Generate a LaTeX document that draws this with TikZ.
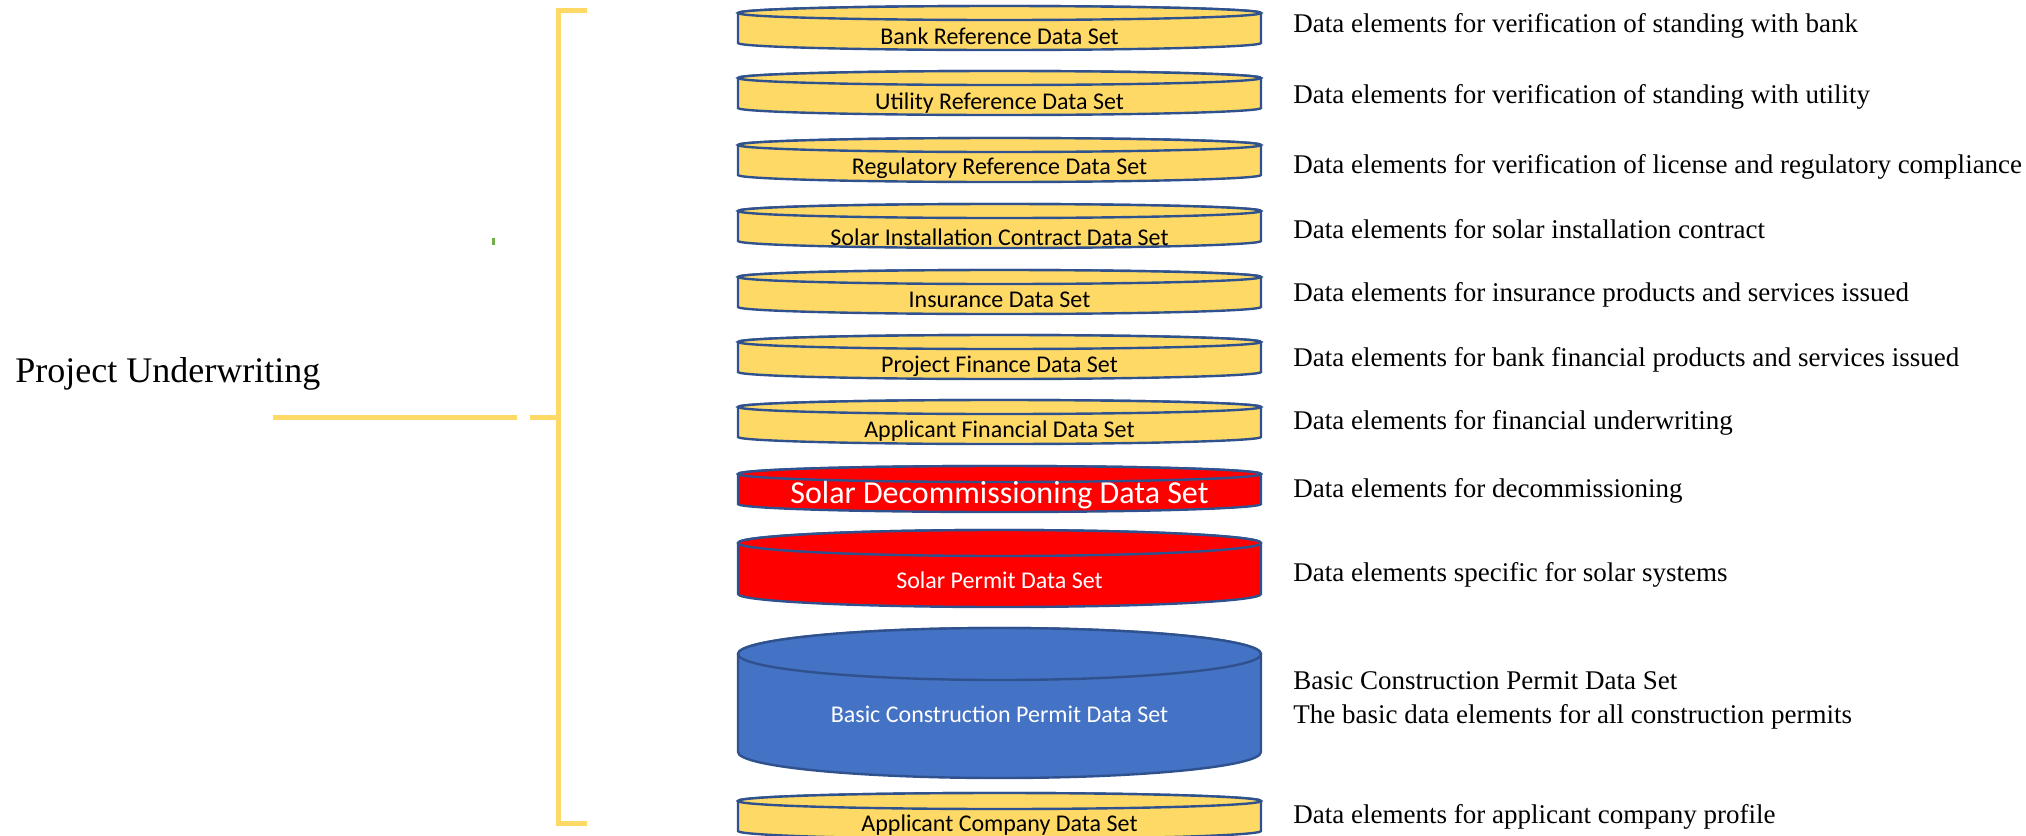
\documentclass[tikz,border=0pt]{standalone}
\usepackage{fontspec}
\setmainfont{Liberation Serif}
\newfontfamily\calibri{Carlito}
\definecolor{setedge}{HTML}{2F528F}
\definecolor{setyellow}{HTML}{FFD966}
\definecolor{setred}{HTML}{FF0000}
\definecolor{setbase}{HTML}{4472C4}
\definecolor{bracketgold}{HTML}{FFD966}
\definecolor{dotgreen}{HTML}{70AD47}
\tikzset{
  setline/.style={draw=setedge, line width=1.2pt},
  yellowset/.style={setline, fill=setyellow},
  redset/.style={setline, fill=setred},
  blueset/.style={setline, fill=setbase},
  setlabel/.style={font=\calibri\fontsize{12}{14}\selectfont, text=black, inner sep=0pt},
  whitelabel/.style={setlabel, text=white},
  desc/.style={anchor=west, inner sep=0pt, font=\fontsize{13.5}{17}\selectfont, align=left},
  bracketline/.style={draw=bracketgold, line width=2.5pt},
}
\begin{document}
\begin{tikzpicture}[x=0.5pt,y=-0.5pt]
\useasboundingbox (0,0) rectangle (2026,836);
\filldraw[yellowset] (738,13) -- (738,43) arc[start angle=180,end angle=360,x radius=130.75pt,y radius=3.5pt] -- (1261,13) arc[start angle=0,end angle=180,x radius=130.75pt,y radius=3.5pt] -- cycle;
\filldraw[yellowset] (999.5,13) ellipse[x radius=130.75pt,y radius=3.5pt];
\filldraw[yellowset] (738,78) -- (738,108) arc[start angle=180,end angle=360,x radius=130.75pt,y radius=3.5pt] -- (1261,78) arc[start angle=0,end angle=180,x radius=130.75pt,y radius=3.5pt] -- cycle;
\filldraw[yellowset] (999.5,78) ellipse[x radius=130.75pt,y radius=3.5pt];
\filldraw[yellowset] (738,145) -- (738,175) arc[start angle=180,end angle=360,x radius=130.75pt,y radius=3.5pt] -- (1261,145) arc[start angle=0,end angle=180,x radius=130.75pt,y radius=3.5pt] -- cycle;
\filldraw[yellowset] (999.5,145) ellipse[x radius=130.75pt,y radius=3.5pt];
\filldraw[yellowset] (738,211) -- (738,241) arc[start angle=180,end angle=360,x radius=130.75pt,y radius=3.5pt] -- (1261,211) arc[start angle=0,end angle=180,x radius=130.75pt,y radius=3.5pt] -- cycle;
\filldraw[yellowset] (999.5,211) ellipse[x radius=130.75pt,y radius=3.5pt];
\filldraw[yellowset] (738,277) -- (738,307) arc[start angle=180,end angle=360,x radius=130.75pt,y radius=3.5pt] -- (1261,277) arc[start angle=0,end angle=180,x radius=130.75pt,y radius=3.5pt] -- cycle;
\filldraw[yellowset] (999.5,277) ellipse[x radius=130.75pt,y radius=3.5pt];
\filldraw[yellowset] (738,342) -- (738,372) arc[start angle=180,end angle=360,x radius=130.75pt,y radius=3.5pt] -- (1261,342) arc[start angle=0,end angle=180,x radius=130.75pt,y radius=3.5pt] -- cycle;
\filldraw[yellowset] (999.5,342) ellipse[x radius=130.75pt,y radius=3.5pt];
\filldraw[yellowset] (738,407) -- (738,437) arc[start angle=180,end angle=360,x radius=130.75pt,y radius=3.5pt] -- (1261,407) arc[start angle=0,end angle=180,x radius=130.75pt,y radius=3.5pt] -- cycle;
\filldraw[yellowset] (999.5,407) ellipse[x radius=130.75pt,y radius=3.5pt];
\filldraw[redset] (738,474) -- (738,504) arc[start angle=180,end angle=360,x radius=130.75pt,y radius=4pt] -- (1261,474) arc[start angle=0,end angle=180,x radius=130.75pt,y radius=4pt] -- cycle;
\filldraw[redset] (999.5,474) ellipse[x radius=130.75pt,y radius=4pt];
\filldraw[redset] (738,543) -- (738,594) arc[start angle=180,end angle=360,x radius=130.75pt,y radius=6.5pt] -- (1261,543) arc[start angle=0,end angle=180,x radius=130.75pt,y radius=6.5pt] -- cycle;
\filldraw[redset] (999.5,543) ellipse[x radius=130.75pt,y radius=6.5pt];
\filldraw[blueset] (738,654) -- (738,752) arc[start angle=180,end angle=360,x radius=130.75pt,y radius=13pt] -- (1261,654) arc[start angle=0,end angle=180,x radius=130.75pt,y radius=13pt] -- cycle;
\filldraw[blueset] (999.5,654) ellipse[x radius=130.75pt,y radius=13pt];
\filldraw[yellowset] (738,801) -- (738,831) arc[start angle=180,end angle=360,x radius=130.75pt,y radius=4pt] -- (1261,801) arc[start angle=0,end angle=180,x radius=130.75pt,y radius=4pt] -- cycle;
\filldraw[yellowset] (999.5,801) ellipse[x radius=130.75pt,y radius=4pt];
\node[setlabel] (bank) at (999.5,36) {Bank Reference Data Set};
\node[setlabel] (utility) at (999.5,103) {Utility Reference Data Set};
\node[setlabel] (regulatory) at (999.5,168) {Regulatory Reference Data Set};
\node[setlabel] (contract) at (999.5,237) {Solar Installation Contract Data Set};
\node[setlabel] (insurance) at (999.5,300) {Insurance Data Set};
\node[setlabel] (finance) at (999.5,366) {Project Finance Data Set};
\node[setlabel] (applfin) at (999.5,431) {Applicant Financial Data Set};
\node[whitelabel, font=\calibri\fontsize{16}{19}\selectfont] (decom) at (999.5,495) {Solar Decommissioning Data Set};
\node[whitelabel] (permit) at (999.5,580) {Solar Permit Data Set};
\node[whitelabel] (basic) at (999.5,714) {Basic Construction Permit Data Set};
\node[setlabel] (company) at (999.5,825) {Applicant Company Data Set};
\node[desc] (bankdesc) at (1293,26) {Data elements for verification of standing with bank};
\node[desc] (utilitydesc) at (1293,97) {Data elements for verification of standing with utility};
\node[desc] (regulatorydesc) at (1293,167) {Data elements for verification of license and regulatory compliance};
\node[desc] (contractdesc) at (1293,229) {Data elements for solar installation contract};
\node[desc] (insurancedesc) at (1293,295) {Data elements for insurance products and services issued};
\node[desc] (financedesc) at (1293,360) {Data elements for bank financial products and services issued};
\node[desc] (applfindesc) at (1293,423) {Data elements for financial underwriting};
\node[desc] (decomdesc) at (1293,491) {Data elements for decommissioning};
\node[desc] (permitdesc) at (1293,575) {Data elements specific for solar systems};
\node[desc] (basicdesc) at (1293,700) {Basic Construction Permit Data Set\\The basic data elements for all construction permits};
\node[desc] (companydesc) at (1293,817) {Data elements for applicant company profile};
\node[anchor=west, inner sep=0pt, font=\fontsize{18}{22}\selectfont] (underwriting) at (15,374) {Project Underwriting};
\coordinate (brtop) at (587,10);
\coordinate (brtopcorner) at (558,10);
\coordinate (brbotcorner) at (558,823);
\coordinate (brbot) at (587,823);
\coordinate (brmid) at (558,417);
\coordinate (stubend) at (530,417);
\coordinate (leadstart) at (273,417);
\coordinate (leadend) at (517,417);
\draw[bracketline] (brtop) -- (brtopcorner) -- (brbotcorner) -- (brbot);
\draw[bracketline] (brmid) -- (stubend);
\draw[bracketline] (leadstart) -- (leadend);
\fill[dotgreen] (492,238) rectangle (495,245);
\end{tikzpicture}
\end{document}
